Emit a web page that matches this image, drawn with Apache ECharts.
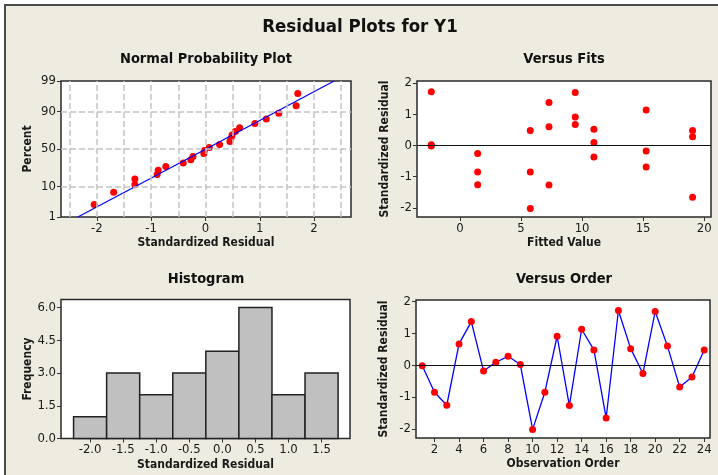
<!DOCTYPE html>
<html>
<head>
<meta charset="utf-8">
<script src="https://cdn.jsdelivr.net/npm/echarts@6/dist/echarts.min.js"></script>
<style>
html,body{margin:0;padding:0;background:#fff;}
#chart{width:718px;height:475px;}
</style>
</head>
<body>
<div id="chart"></div>
<script>
// ---------------- data ----------------
const mainTitle = 'Residual Plots for Y1';
const panelTitles = ['Normal Probability Plot', 'Versus Fits', 'Histogram', 'Versus Order'];

// observation order and standardized residuals
const observation = [1,2,3,4,5,6,7,8,9,10,11,12,13,14,15,16,17,18,19,20,21,22,23,24];
const residuals = [-0.02,-0.85,-1.26,0.67,1.37,-0.18,0.09,0.28,0.02,-2.02,-0.85,0.91,-1.27,1.13,0.48,-1.66,1.72,0.52,-0.26,1.69,0.60,-0.69,-0.37,0.48];
const fittedValues = [-2.35,1.45,1.45,9.44,7.29,15.25,10.97,19.05,-2.35,5.76,5.76,9.44,7.29,15.25,5.76,19.05,-2.35,10.97,1.45,9.44,7.29,15.25,10.97,19.05];

// normal probability plot (sorted residuals and percent)
const nppResid = [-2.05,-1.69,-1.30,-1.30,-0.89,-0.87,-0.73,-0.41,-0.27,-0.23,-0.03,-0.02,0.07,0.26,0.45,0.47,0.49,0.55,0.63,0.91,1.12,1.35,1.67,1.70];
const nppPercent = [2.87,6.97,11.07,15.16,19.26,23.36,27.46,31.56,35.66,39.75,43.85,47.95,52.05,56.15,60.25,64.34,68.44,72.54,76.64,80.74,84.84,88.93,93.03,97.13];
const fitLineResid = [-2.35, 2.37];
const fitLinePercent = [1, 99];

// histogram
const binCenters = [-2.0,-1.5,-1.0,-0.5,0.0,0.5,1.0,1.5];
const binWidth = 0.5;
const binCounts = [1,3,2,3,4,6,2,3];

// tick labels
const pctTicks = [1,10,50,90,99];
const nppTickX = [-2,-1,0,1,2];
const nppGridX = [-2.5,-2,-1.5,-1,-0.5,0,0.5,1,1.5,2,2.5];
const residTicks = [-2,-1,0,1,2];
const fitsTicks = [0,5,10,15,20];
const histTicksX = [-2.0,-1.5,-1.0,-0.5,0.0,0.5,1.0,1.5];
const histTicksY = [0,1.5,3,4.5,6];
const orderTicks = [2,4,6,8,10,12,14,16,18,20,22,24];

// ---------------- helpers ----------------
function probit(p){
  const a=[-3.969683028665376e+01,2.209460984245205e+02,-2.759285104469687e+02,1.383577518672690e+02,-3.066479806614716e+01,2.506628277459239e+00];
  const b=[-5.447609879822406e+01,1.615858368580409e+02,-1.556989798598866e+02,6.680131188771972e+01,-1.328068155288572e+01];
  const c=[-7.784894002430293e-03,-3.223964580411365e-01,-2.400758277161838e+00,-2.549732539343734e+00,4.374664141464968e+00,2.938163982698783e+00];
  const d=[7.784695709041462e-03,3.224671290700398e-01,2.445134137142996e+00,3.754408661907416e+00];
  const pl=0.02425, ph=1-pl; let q,r;
  if(p<pl){q=Math.sqrt(-2*Math.log(p));return (((((c[0]*q+c[1])*q+c[2])*q+c[3])*q+c[4])*q+c[5])/((((d[0]*q+d[1])*q+d[2])*q+d[3])*q+1);}
  if(p<=ph){q=p-0.5;r=q*q;return (((((a[0]*r+a[1])*r+a[2])*r+a[3])*r+a[4])*r+a[5])*q/(((((b[0]*r+b[1])*r+b[2])*r+b[3])*r+b[4])*r+1);}
  q=Math.sqrt(-2*Math.log(1-p));return -(((((c[0]*q+c[1])*q+c[2])*q+c[3])*q+c[4])*q+c[5])/((((d[0]*q+d[1])*q+d[2])*q+d[3])*q+1);
}
const z = pct => probit(pct/100);
const zTicks = pctTicks.map(z);

const FONT = '"DejaVu Sans Condensed", "DejaVu Sans", sans-serif';
const TXT = '#1a1a1a';
const RED = '#ff0000';
const BLUE = '#0000ff';

function labelCfg(vals, fmt){
  return {customValues: vals, color: TXT, fontFamily: FONT, fontSize: 13, margin: 5, formatter: fmt};
}
function tickCfg(vals){
  return {customValues: vals, length: 4, lineStyle: {color: '#333', width: 1}};
}
function nameCfg(){
  return {color: TXT, fontFamily: FONT, fontSize: 12, fontWeight: 'bold'};
}
const noLine = {show: false, onZero: false};

const grids = [
  {left: 61, top: 81, width: 290, height: 136},
  {left: 417, top: 81, width: 294, height: 136},
  {left: 61, top: 299.5, width: 289, height: 139},
  {left: 416, top: 300, width: 294, height: 138}
].map(g => Object.assign(g, {show: true, backgroundColor: '#fff', borderColor: '#2a2a2a', borderWidth: 1.5, containLabel: false}));

const xAxis = [
  {gridIndex: 0, type: 'value', min: -2.66, max: 2.68,
   name: 'Standardized Residual', nameLocation: 'middle', nameGap: 20, nameTextStyle: nameCfg(),
   axisLine: noLine, splitLine: {show: false},
   axisTick: tickCfg(nppTickX), axisLabel: labelCfg(nppTickX, v => String(v))},
  {gridIndex: 1, type: 'value', min: -3.52, max: 20.56,
   name: 'Fitted Value', nameLocation: 'middle', nameGap: 20, nameTextStyle: nameCfg(),
   axisLine: noLine, splitLine: {show: false},
   axisTick: tickCfg(fitsTicks), axisLabel: labelCfg(fitsTicks, v => String(v))},
  {gridIndex: 2, type: 'value', min: -2.44, max: 1.93,
   name: 'Standardized Residual', nameLocation: 'middle', nameGap: 20, nameTextStyle: nameCfg(),
   axisLine: noLine, splitLine: {show: false},
   axisTick: tickCfg(histTicksX), axisLabel: labelCfg(histTicksX, v => v.toFixed(1))},
  {gridIndex: 3, type: 'value', min: 0.49, max: 24.47,
   name: 'Observation Order', nameLocation: 'middle', nameGap: 20, nameTextStyle: nameCfg(),
   axisLine: noLine, splitLine: {show: false},
   axisTick: tickCfg(orderTicks), axisLabel: labelCfg(orderTicks, v => String(v))}
];

const yAxis = [
  {gridIndex: 0, type: 'value', min: z(1), max: z(99),
   name: 'Percent', nameLocation: 'middle', nameGap: 27, nameTextStyle: nameCfg(),
   axisLine: noLine, splitLine: {show: false},
   axisTick: tickCfg(zTicks),
   axisLabel: labelCfg(zTicks, v => {
     let best = 0; zTicks.forEach((t, i) => { if (Math.abs(t - v) < Math.abs(zTicks[best] - v)) best = i; });
     return String(pctTicks[best]);
   })},
  {gridIndex: 1, type: 'value', min: -2.29, max: 2.06,
   name: 'Standardized Residual', nameLocation: 'middle', nameGap: 26, nameTextStyle: nameCfg(),
   axisLine: noLine, splitLine: {show: false},
   axisTick: tickCfg(residTicks), axisLabel: labelCfg(residTicks, v => String(v))},
  {gridIndex: 2, type: 'value', min: 0, max: 6.37,
   name: 'Frequency', nameLocation: 'middle', nameGap: 27, nameTextStyle: nameCfg(),
   axisLine: noLine, splitLine: {show: false},
   axisTick: tickCfg(histTicksY), axisLabel: labelCfg(histTicksY, v => v.toFixed(1))},
  {gridIndex: 3, type: 'value', min: -2.29, max: 2.05,
   name: 'Standardized Residual', nameLocation: 'middle', nameGap: 26, nameTextStyle: nameCfg(),
   axisLine: noLine, splitLine: {show: false},
   axisTick: tickCfg(residTicks), axisLabel: labelCfg(residTicks, v => String(v))}
];

const dashStyle = {color: '#c4c4c4', width: 1.5, type: [6, 3]};
const zeroLine = {silent: true, symbol: 'none', label: {show: false},
  lineStyle: {color: '#111', width: 1, type: 'solid'}, data: [{yAxis: 0}]};

const histData = binCenters.map((c, i) => [c - binWidth/2, c + binWidth/2, binCounts[i]]);
const dot = {color: RED, opacity: 1};

const series = [
  // NPP grid lines
  {type: 'line', xAxisIndex: 0, yAxisIndex: 0, data: [], silent: true,
   markLine: {silent: true, symbol: 'none', label: {show: false}, lineStyle: dashStyle, animation: false,
     data: nppGridX.map(v => ({xAxis: v})).concat(zTicks.slice(1, -1).map(v => ({yAxis: v})))}},
  // NPP fitted line
  {type: 'line', xAxisIndex: 0, yAxisIndex: 0, symbol: 'none', silent: true,
   lineStyle: {color: BLUE, width: 1.2},
   data: fitLineResid.map((x, i) => [x, z(fitLinePercent[i])])},
  // NPP points
  {type: 'scatter', xAxisIndex: 0, yAxisIndex: 0, symbolSize: 7, itemStyle: dot,
   data: nppResid.map((x, i) => [x, z(nppPercent[i])])},
  // Versus fits
  {type: 'scatter', xAxisIndex: 1, yAxisIndex: 1, symbolSize: 7, itemStyle: dot,
   data: fittedValues.map((f, i) => [f, residuals[i]]), markLine: zeroLine},
  // Histogram
  {type: 'custom', xAxisIndex: 2, yAxisIndex: 2, data: histData,
   renderItem: function(params, api){
     const p0 = api.coord([api.value(0), api.value(2)]);
     const p1 = api.coord([api.value(1), 0]);
     return {type: 'rect', shape: {x: p0[0], y: p0[1], width: p1[0]-p0[0], height: p1[1]-p0[1]},
       style: {fill: '#c0c0c0', stroke: '#222', lineWidth: 1.5}};
   }},
  // Versus order
  {type: 'line', xAxisIndex: 3, yAxisIndex: 3, symbol: 'circle', symbolSize: 7, showAllSymbol: true,
   itemStyle: dot, lineStyle: {color: BLUE, width: 1.3},
   data: observation.map((o, i) => [o, residuals[i]]), markLine: zeroLine}
];

function titleText(text, x, y, size){
  return {type: 'text', x: x, y: y, silent: true,
    style: {text: text, fill: '#111', font: 'bold ' + size + 'px ' + FONT, textAlign: 'center', textVerticalAlign: 'middle'}};
}

const option = {
  animation: false,
  backgroundColor: '#fff',
  graphic: [
    {type: 'rect', z: -10, silent: true, shape: {x: 5, y: 5, width: 720, height: 480},
     style: {fill: '#eeebe1', stroke: '#4a4a4a', lineWidth: 2}},
    titleText(mainTitle, 360, 27, 18.5),
    titleText(panelTitles[0], 206, 59, 14.5),
    titleText(panelTitles[1], 564, 59, 14.5),
    titleText(panelTitles[2], 206, 279, 14.5),
    titleText(panelTitles[3], 564, 279, 14.5)
  ],
  grid: grids,
  xAxis: xAxis,
  yAxis: yAxis,
  series: series
};

const chart = echarts.init(document.getElementById('chart'), null, {renderer: 'canvas'});
chart.setOption(option);
</script>
</body>
</html>
